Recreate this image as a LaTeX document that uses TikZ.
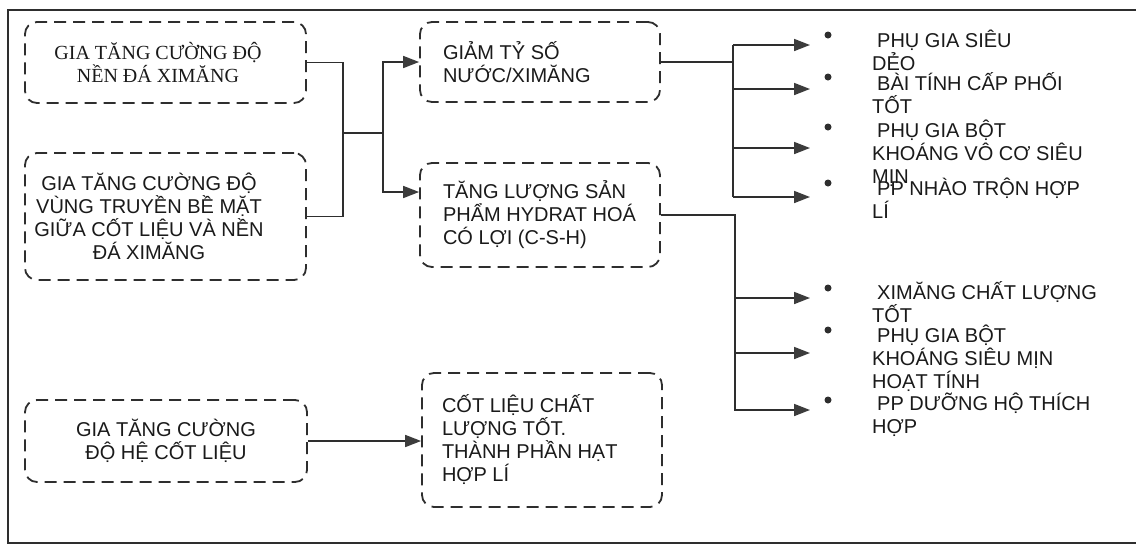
\documentclass[tikz,border=0pt]{standalone}
\usepackage{fontspec}
\setmainfont{Liberation Sans}
\newfontfamily\tnrfont{Liberation Serif}
\usetikzlibrary{arrows.meta}
\definecolor{linec}{HTML}{2E2E2E}
\definecolor{txtc}{HTML}{1A1A1A}
\definecolor{tipc}{HTML}{3C3C3C}
\newcommand\txtfont{\fontsize{20}{23}\selectfont\lineskiplimit=-30pt\relax}
\begin{document}
\begin{tikzpicture}[x=1pt,y=-1pt,
  box/.style={draw=linec, line width=1.8pt, dash pattern=on 12pt off 7pt,
    rounded corners=12pt, inner sep=0pt, text=txtc, font=\txtfont},
  link/.style={draw=linec, line width=1.7pt},
  arr/.style={link, -{Triangle[length=16pt,width=12pt,color=tipc]}},
  dot/.style={circle, fill=linec, inner sep=0pt, minimum size=7pt},
  item/.style={anchor=base west, inner sep=0pt, text=txtc, font=\txtfont}]
\useasboundingbox (0,0) rectangle (1136,550);
\fill[white] (0,0) rectangle (1136,550);
% outer frame
\draw[draw=linec, line width=2.2pt] (1136,10) -- (8,10) -- (8,543) -- (1136,543);

% boxes
\node[box, minimum width=281pt, minimum height=81pt] (A) at (165.5,62.5)
  {\parbox{230pt}{\centering\tnrfont GIA TĂNG CƯỜNG ĐỘ\\NỀN ĐÁ XIMĂNG}\hspace*{15pt}};
\node[box, minimum width=281pt, minimum height=127pt] (B) at (165.5,216.5)
  {\parbox{240pt}{\centering GIA TĂNG CƯỜNG ĐỘ\\VÙNG TRUYỀN BỀ MẶT\\GIỮA CỐT LIỆU VÀ NỀN\\ĐÁ XIMĂNG}\hspace*{33pt}};
\node[box, minimum width=240pt, minimum height=80pt] (C) at (540,62)
  {\parbox{194pt}{\raggedright GIẢM TỶ SỐ\\NƯỚC/XIMĂNG}};
\node[box, minimum width=240pt, minimum height=104pt] (D) at (540,215)
  {\parbox{194pt}{\raggedright TĂNG LƯỢNG SẢN\\PHẨM HYDRAT HOÁ\\CÓ LỢI (C-S-H)}};
\node[box, minimum width=282pt, minimum height=82pt] (E) at (166,441)
  {\parbox{240pt}{\centering GIA TĂNG CƯỜNG\\ĐỘ HỆ CỐT LIỆU}};
\node[box, minimum width=240pt, minimum height=134pt] (F) at (542,440)
  {\parbox{200pt}{\raggedright CỐT LIỆU CHẤT\\LƯỢNG TỐT.\\THÀNH PHẦN HẠT\\HỢP LÍ}};

% junctions
\coordinate (j1) at (343,133);
\coordinate (j2) at (383,133);
\coordinate (b1) at (733,0);
\coordinate (b2) at (735,0);
\coordinate (t1) at (810,45);
\coordinate (t2) at (810,89);
\coordinate (t3) at (810,148);
\coordinate (t4) at (810,197);
\coordinate (t5) at (810,298);
\coordinate (t6) at (810,353);
\coordinate (t7) at (810,410);

% left connectors
\draw[link] (A.east) -| (j1) |- (B.east);
\draw[link] (j1) -- (j2);
\draw[arr] (j2) |- (C.west);
\draw[arr] (j2) |- ([yshift=23pt]D.west);

% right bus from C
\draw[link] (C.east) -- (C.east -| b1);
\draw[link] (t1 -| b1) -- (t4 -| b1);
\draw[arr] (t1 -| b1) -- (t1);
\draw[arr] (t2 -| b1) -- (t2);
\draw[arr] (t3 -| b1) -- (t3);
\draw[arr] (t4 -| b1) -- (t4);

% right bus from D
\draw[arr] (D.east) -| (t7 -| b2) -- (t7);
\draw[arr] (t5 -| b2) -- (t5);
\draw[arr] (t6 -| b2) -- (t6);

% bottom
\draw[arr] (E.east) -- (E.east -| F.west);

% bullets
\node[dot] (d1) at (828,35) {};
\node[dot] (d2) at (828,77) {};
\node[dot] (d3) at (828,127) {};
\node[dot] (d4) at (828,183) {};
\node[dot] (d5) at (828,288) {};
\node[dot] (d6) at (828,330) {};
\node[dot] (d7) at (828,400) {};

% items
\node[item] (i1) at (872,47) {\parbox[t]{250pt}{\raggedright\hspace*{5pt}PHỤ GIA SIÊU\\DẺO}};
\node[item] (i2) at (872,90) {\parbox[t]{250pt}{\raggedright\hspace*{5pt}BÀI TÍNH CẤP PHỐI\\TỐT}};
\node[item] (i3) at (872,137) {\parbox[t]{250pt}{\raggedright\hspace*{5pt}PHỤ GIA BỘT\\KHOÁNG VÔ CƠ SIÊU\\MỊN}};
\node[item] (i4) at (872,195) {\parbox[t]{250pt}{\raggedright\hspace*{5pt}PP NHÀO TRỘN HỢP\\LÍ}};
\node[item] (i5) at (872,299) {\parbox[t]{250pt}{\raggedright\hspace*{5pt}XIMĂNG CHẤT LƯỢNG\\TỐT}};
\node[item] (i6) at (872,342) {\parbox[t]{250pt}{\raggedright\hspace*{5pt}PHỤ GIA BỘT\\KHOÁNG SIÊU MỊN\\HOẠT TÍNH}};
\node[item] (i7) at (872,410) {\parbox[t]{250pt}{\raggedright\hspace*{5pt}PP DƯỠNG HỘ THÍCH\\HỢP}};
\end{tikzpicture}
\end{document}
